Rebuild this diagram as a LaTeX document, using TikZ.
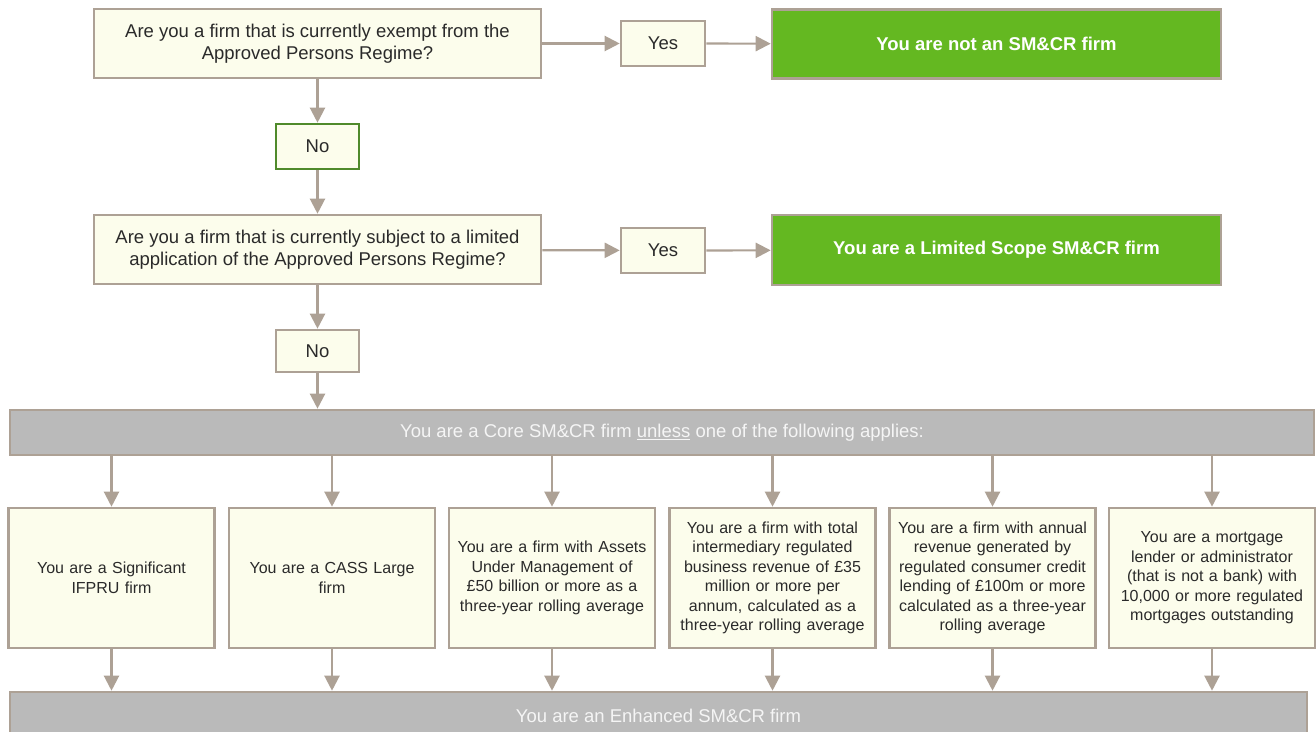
\documentclass[tikz,border=0pt]{standalone}
\usepackage{fontspec}
\setmainfont{Liberation Sans}
\usetikzlibrary{arrows.meta}
\definecolor{brd}{HTML}{ADA195}
\definecolor{ivory}{HTML}{FCFDEC}
\definecolor{grn}{HTML}{64B821}
\definecolor{grnbrd}{HTML}{4F8A2B}
\definecolor{barfill}{HTML}{BABABA}
\definecolor{txt}{HTML}{2A2A2A}
\tikzset{
  qbox/.style={draw=brd, line width=2.6pt, fill=ivory, text=txt, align=center, inner sep=0pt, font=\fontsize{18.5}{22}\selectfont},
  ansbox/.style={draw=brd, line width=2.6pt, fill=ivory, text=txt, align=center, inner sep=0pt, minimum width=84pt, minimum height=45pt, font=\fontsize{18.5}{22}\selectfont},
  resbox/.style={draw=brd, line width=2.6pt, fill=grn, text=white, align=center, inner sep=0pt, minimum width=449pt, minimum height=69pt, font=\bfseries\fontsize{18.5}{22}\selectfont},
  barbox/.style={draw=brd, line width=2.6pt, fill=barfill, text=white!96!black, align=center, inner sep=0pt, font=\fontsize{18.5}{22}\selectfont},
  critbox/.style={draw=brd, line width=2.6pt, fill=ivory, text=txt, align=center, inner sep=0pt, minimum width=206pt, minimum height=140pt, text width=200pt, font=\fontsize{16}{19.5}\selectfont},
  arr/.style={draw=brd, line width=2.2pt, -{Triangle[width=15pt,length=15pt]}},
}
\begin{document}
\begin{tikzpicture}[x=1pt,y=-1pt]
\useasboundingbox (0,0) rectangle (1316,731);
\node[qbox, minimum width=447pt, minimum height=69pt] (q1) at (317.5,43.5) {Are you a firm that is currently exempt from the\\Approved Persons Regime?};
\node[ansbox] (y1) at (663,43.5) {Yes};
\node[resbox] (r1) at (996.5,44) {You are not an SM\&CR firm};
\node[ansbox, draw=grnbrd, minimum width=83pt] (n1) at (317.5,146.5) {No};
\node[qbox, minimum width=447pt, minimum height=69pt] (q2) at (317.5,249.5) {Are you a firm that is currently subject to a limited\\application of the Approved Persons Regime?};
\node[ansbox] (y2) at (663,250.5) {Yes};
\node[resbox, minimum height=70pt] (r2) at (996.5,250) {You are a Limited Scope SM\&CR firm};
\node[ansbox, minimum width=83pt, minimum height=42pt] (n2) at (317.5,351) {No};
\node[barbox, minimum width=1304pt, minimum height=45pt] (core) at (662,432.5) {You are a Core SM\&CR firm \underline{unless} one of the following applies:};
\node[critbox] (c1) at (111.5,578) {You are a Significant\\IFPRU firm};
\node[critbox] (c2) at (332,578) {You are a CASS Large\\firm};
\node[critbox] (c3) at (552,578) {You are a firm with Assets\\Under Management of\\£50 billion or more as a\\three-year rolling average};
\node[critbox] (c4) at (772.5,578) {You are a firm with total\\intermediary regulated\\business revenue of £35\\million or more per\\annum, calculated as a\\three-year rolling average};
\node[critbox] (c5) at (992.5,578) {You are a firm with annual\\revenue generated by\\regulated consumer credit\\lending of £100m or more\\calculated as a three-year\\rolling average};
\node[critbox] (c6) at (1212,578) {You are a mortgage\\lender or administrator\\(that is not a bank) with\\10,000 or more regulated\\mortgages outstanding};
\node[barbox, minimum width=1297pt, minimum height=48pt] (enh) at (658.5,716) {You are an Enhanced SM\&CR firm};
\draw[arr] (q1) -- (y1);
\draw[arr] (y1) -- (r1);
\draw[arr] (q1) -- (n1);
\draw[arr] (n1) -- (q2);
\draw[arr] (q2) -- (y2);
\draw[arr] (y2) -- (r2);
\draw[arr] (q2) -- (n2);
\draw[arr] (n2) -- (core.north -| n2);
\foreach \c in {c1,c2,c3,c4,c5,c6}{
  \draw[arr] (core.south -| \c) -- (\c.north);
  \draw[arr] (\c.south) -- (enh.north -| \c);
}
\end{tikzpicture}
\end{document}
